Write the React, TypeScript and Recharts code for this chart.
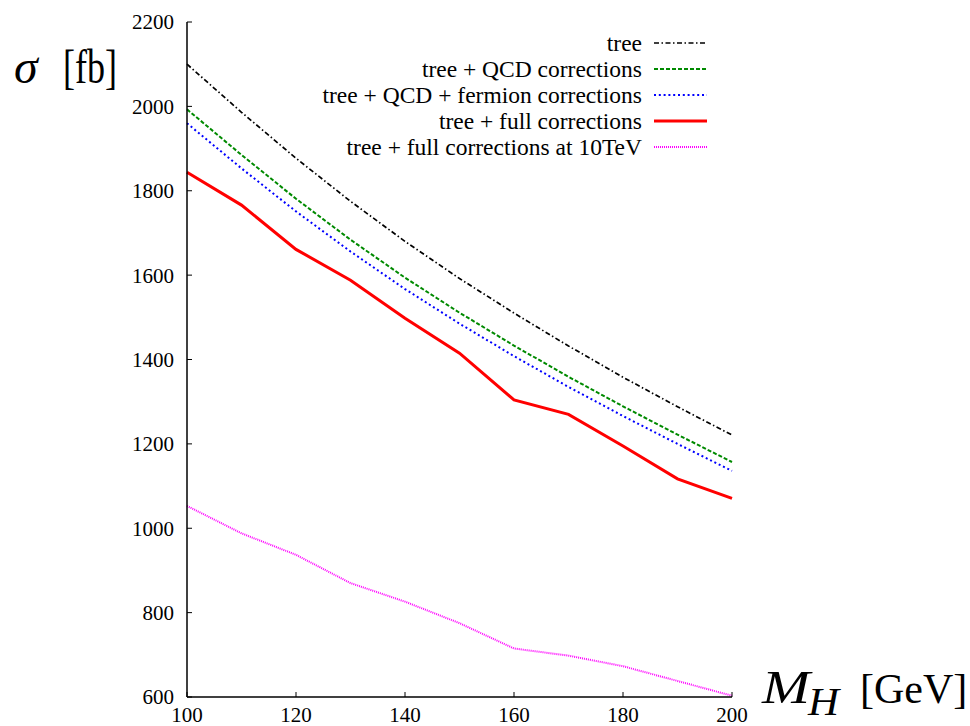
import { Legend, Line, LineChart, XAxis, YAxis } from "recharts";

const SERIF = '"Liberation Serif", "Times New Roman", serif';

// Higgs mass grid [GeV]
const massH = [100, 110, 120, 130, 140, 150, 160, 170, 180, 190, 200];

// cross sections [fb]
const tree = [2100, 1986, 1877, 1775, 1680, 1592, 1510, 1432, 1358, 1288, 1221];
const treeQcd = [1993, 1885, 1781, 1684, 1594, 1511, 1433, 1359, 1289, 1222, 1157];
const treeQcdFermion = [1960, 1853, 1751, 1656, 1567, 1485, 1408, 1335, 1266, 1200, 1136];
const treeFull = [1844, 1766, 1661, 1588, 1498, 1415, 1304, 1270, 1195, 1117, 1071];
const treeFull10TeV = [1053, 988, 937, 870, 826, 775, 715, 698, 673, 638, 603];

const xTicks = [100, 120, 140, 160, 180, 200];
const yTicks = [600, 800, 1000, 1200, 1400, 1600, 1800, 2000, 2200];

const series = [
  { key: "tree", name: "tree", color: "#000000", width: 1.7, dash: "5 2.5 1.5 2.5" },
  { key: "qcd", name: "tree + QCD corrections", color: "#008a00", width: 2, dash: "4 2" },
  { key: "ferm", name: "tree + QCD + fermion corrections", color: "#0000ff", width: 2, dash: "2 2.8" },
  { key: "full", name: "tree + full corrections", color: "#ff0000", width: 3, dash: undefined },
  { key: "full10", name: "tree + full corrections at 10TeV", color: "#ff00ff", width: 2, dash: "1 1" },
];

const data = massH.map((m, i) => ({
  m,
  tree: tree[i],
  qcd: treeQcd[i],
  ferm: treeQcdFermion[i],
  full: treeFull[i],
  full10: treeFull10TeV[i],
}));

const tickStyle = { fill: "#000", fontSize: 21, fontFamily: SERIF };
const frame = { stroke: "#000", strokeWidth: 1.5 };

function PlotKey() {
  return (
    <div style={{ fontFamily: SERIF, fontSize: 23.5, color: "#000" }}>
      {series.map((s) => (
        <div
          key={s.key}
          style={{
            display: "flex",
            justifyContent: "flex-end",
            alignItems: "center",
            height: 26,
            whiteSpace: "nowrap",
          }}
        >
          <span style={{ lineHeight: "26px" }}>{s.name}</span>
          <svg width={53} height={8} style={{ marginLeft: 12 }}>
            <line
              x1={0}
              y1={4}
              x2={53}
              y2={4}
              stroke={s.color}
              strokeWidth={s.width}
              strokeDasharray={s.dash}
            />
          </svg>
        </div>
      ))}
    </div>
  );
}

const sigmaLabel = () => (
  <g fontFamily={SERIF} fill="#000">
    <text x={14} y={83} fontSize={48} fontStyle="italic">σ</text>
    <text x={63} y={83} fontSize={48} textLength={54} lengthAdjust="spacingAndGlyphs">[fb]</text>
  </g>
);

const massLabel = () => (
  <g fontFamily={SERIF} fill="#000">
    <text x={762} y={703} fontSize={46} fontStyle="italic" textLength={48} lengthAdjust="spacingAndGlyphs">M</text>
    <text x={808} y={715} fontSize={40} fontStyle="italic" textLength={31} lengthAdjust="spacingAndGlyphs">H</text>
    <text x={860} y={703} fontSize={42}>[GeV]</text>
  </g>
);

export default function App() {
  return (
    <div style={{ position: "absolute", left: 0, top: 0, background: "#fff" }}>
      <LineChart
        width={970}
        height={726}
        data={data}
        margin={{ top: 22, right: 238, bottom: 0, left: 0 }}
      >
        <XAxis
          xAxisId="bottom"
          dataKey="m"
          type="number"
          domain={[100, 200]}
          ticks={xTicks}
          interval={0}
          height={29}
          tickSize={-5}
          tickMargin={15}
          axisLine={frame}
          tickLine={{ stroke: "#000" }}
          tick={tickStyle}
          label={{ content: massLabel }}
        />
        <XAxis
          xAxisId="top"
          orientation="top"
          dataKey="m"
          type="number"
          domain={[100, 200]}
          ticks={xTicks}
          interval={0}
          height={0}
          tickSize={-5}
          axisLine={frame}
          tickLine={{ stroke: "#000" }}
          tick={false}
        />
        <YAxis
          yAxisId="left"
          type="number"
          domain={[600, 2200]}
          ticks={yTicks}
          interval={0}
          width={187}
          tickSize={-5}
          tickMargin={18}
          axisLine={frame}
          tickLine={{ stroke: "#000" }}
          tick={tickStyle}
          label={{ content: sigmaLabel }}
        />
        <YAxis
          yAxisId="right"
          orientation="right"
          type="number"
          domain={[600, 2200]}
          ticks={yTicks}
          interval={0}
          width={0}
          tickSize={-5}
          axisLine={frame}
          tickLine={{ stroke: "#000" }}
          tick={false}
        />
        <Legend
          layout="vertical"
          align="center"
          verticalAlign="middle"
          wrapperStyle={{ top: 30, left: 300, width: 407 }}
          content={() => <PlotKey />}
        />
        {series.map((s) => (
          <Line
            key={s.key}
            xAxisId="bottom"
            yAxisId="left"
            type="linear"
            dataKey={s.key}
            name={s.name}
            stroke={s.color}
            strokeWidth={s.width}
            strokeDasharray={s.dash}
            dot={false}
            activeDot={false}
            isAnimationActive={false}
          />
        ))}
      </LineChart>
    </div>
  );
}
